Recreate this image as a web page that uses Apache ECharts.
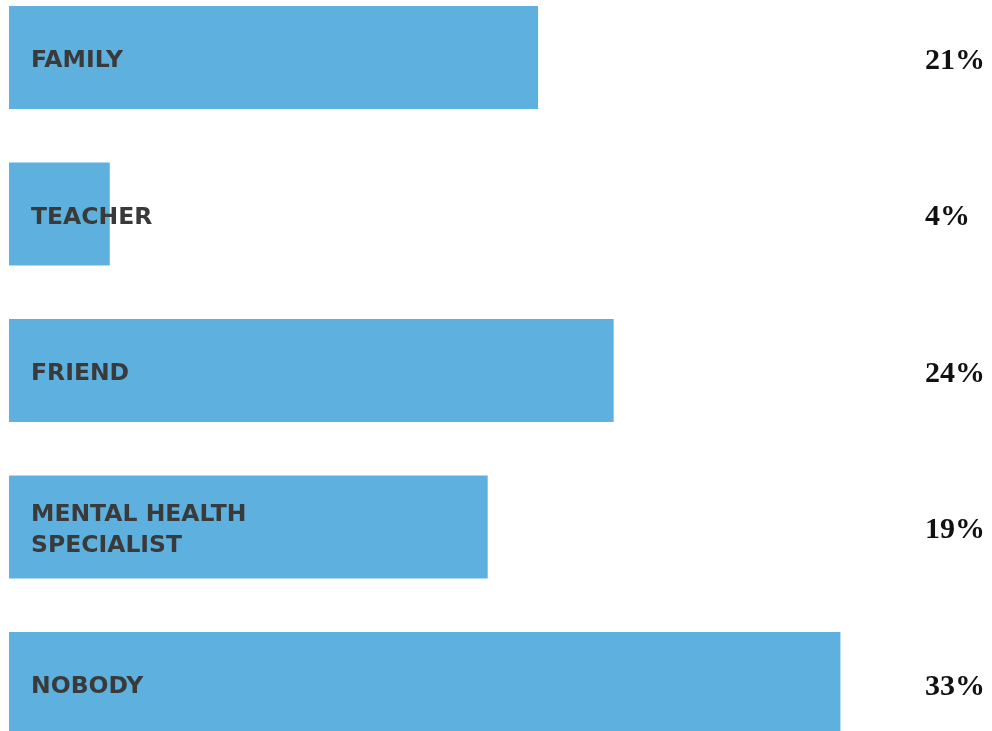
<!DOCTYPE html>
<html>
<head>
<meta charset="utf-8">
<script src="https://cdn.jsdelivr.net/npm/echarts@6/dist/echarts.min.js"></script>
<style>
  html, body { margin: 0; padding: 0; background: #fff; }
  #chart { width: 992px; height: 731px; }
</style>
</head>
<body>
<div id="chart"></div>
<script>
// 数据
var categories = ['FAMILY', 'TEACHER', 'FRIEND', 'MENTAL HEALTH\nSPECIALIST', 'NOBODY'];
var values = [21, 4, 24, 19, 33];
var pctLabels = ['21%', '4%', '24%', '19%', '33%'];

var myChart = echarts.init(document.getElementById('chart'));
var option = {
    animation: false,
    grid: [
        { left: 9, top: 57.5, width: 907, height: 626 },
        { left: 9, top: 61, width: 907, height: 626 } // 文字标签稍微下移
    ],
    xAxis: [
        { type: 'value', min: 0, max: 36, show: false, gridIndex: 0 },
        { type: 'value', min: 0, max: 36, show: false, gridIndex: 1 }
    ],
    yAxis: [
        {
            type: 'category', inverse: true, data: categories, boundaryGap: false, gridIndex: 0,
            show: false
        },
        {
            type: 'category', inverse: true, data: categories, boundaryGap: false, gridIndex: 1,
            axisLine: { show: false }, axisTick: { show: false },
            axisLabel: {
                inside: true, margin: 22, align: 'left',
                color: '#3a3a3a', fontFamily: 'DejaVu Sans', fontWeight: 'bold', fontSize: 23.5,
                lineHeight: 31
            },
            z: 5
        },
        {
            type: 'category', inverse: true, data: pctLabels, position: 'right', boundaryGap: false, gridIndex: 1,
            axisLine: { show: false }, axisTick: { show: false },
            axisLabel: {
                margin: 9, align: 'left',
                color: '#111', fontFamily: 'Liberation Serif', fontWeight: 'bold', fontSize: 30
            }
        }
    ],
    series: [{
        type: 'bar', data: values, barWidth: 103, xAxisIndex: 0, yAxisIndex: 0,
        itemStyle: { color: '#5eb1df' }
    }]
};
myChart.setOption(option);
window.onresize = myChart.resize;
</script>
</body>
</html>
